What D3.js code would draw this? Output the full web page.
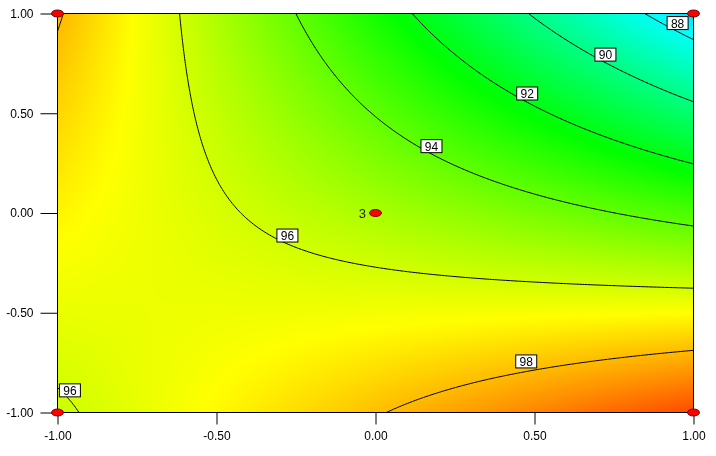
<!DOCTYPE html>
<html>
<head>
<meta charset="utf-8">
<script src="https://d3js.org/d3.v7.min.js"></script>
<style>
  body { margin: 0; background: #fff; }
  #wrap { position: relative; width: 716px; height: 456px; }
  #wrap canvas, #wrap svg { position: absolute; left: 0; top: 0; }
  svg text { font-family: Arial, "Liberation Sans", sans-serif; }
</style>
</head>
<body>
<div id="wrap">
  <canvas id="fill" width="716" height="456"></canvas>
  <svg id="chart" width="716" height="456"></svg>
</div>
<script>
  // response model in coded units: b0 + bA*A + bB*B + bAB*A*B
  const coefs = [95.28, -1.70, -2.65, -3.77]
  const levels = [88, 90, 92, 94, 96, 98]
  // where the contour labels sit (coded units)
  const labelSpots = [
    {level: 88, a: 0.950, b: 0.952},
    {level: 90, a: 0.723, b: 0.794},
    {level: 92, a: 0.477, b: 0.599},
    {level: 94, a: 0.176, b: 0.335},
    {level: 96, a: -0.277, b: -0.113},
    {level: 96, a: -0.961, b: -0.889},
    {level: 98, a: 0.474, b: -0.744}
  ]
  const designPoints = [
    {a: -1, b: 1, n: 1}, {a: 1, b: 1, n: 1},
    {a: -1, b: -1, n: 1}, {a: 1, b: -1, n: 1},
    {a: 0, b: 0, n: 3}
  ]
  const ticks = [-1, -0.5, 0, 0.5, 1]
  const colorStops = [83.3, 87.8, 92.3, 96.8, 101.3]
  const colorRange = ["#0000ff", "#00ffff", "#00ff00", "#ffff00", "#ff0000"]

  const model = (a, b) => coefs[0] + coefs[1]*a + coefs[2]*b + coefs[3]*a*b

  const svg = d3.select("#chart")
  const x = d3.scaleLinear().domain([-1, 1]).range([57.5, 693.5])
  const y = d3.scaleLinear().domain([-1, 1]).range([412.5, 13.5])
  const color = d3.scaleLinear().domain(colorStops).range(colorRange).clamp(true)

  // colour fill, pixel by pixel
  const ctx = document.getElementById("fill").getContext("2d")
  const px0 = 57, px1 = 694, py0 = 13, py1 = 413
  const img = ctx.createImageData(px1 - px0, py1 - py0)
  for (let py = py0; py < py1; py++) {
    const b = y.invert(py + 0.5)
    for (let px = px0; px < px1; px++) {
      const c = d3.rgb(color(model(x.invert(px + 0.5), b)))
      const k = ((py - py0) * (px1 - px0) + (px - px0)) * 4
      img.data[k] = c.r
      img.data[k+1] = c.g
      img.data[k+2] = c.b
      img.data[k+3] = 255
    }
  }
  ctx.putImageData(img, px0, py0)

  // contour lines
  const n = 241, m = 241
  const grid = new Float64Array(n * m)
  for (let j = 0; j < m; j++) {
    for (let i = 0; i < n; i++) {
      grid[j*n + i] = model(-1 + 2*i/(n-1), 1 - 2*j/(m-1))
    }
  }
  const contours = d3.contours().size([n, m]).thresholds(levels)(grid)
  const proj = d3.geoTransform({
    point: function(gx, gy) {
      this.stream.point(x(-1 + 2*(gx - 0.5)/(n-1)), y(1 - 2*(gy - 0.5)/(m-1)))
    }
  })
  const path = d3.geoPath(proj)

  svg.append("clipPath").attr("id", "plot-clip")
    .append("rect")
    .attr("x", x(-1)).attr("y", y(1))
    .attr("width", x(1) - x(-1)).attr("height", y(-1) - y(1))

  svg.append("g")
    .attr("clip-path", "url(#plot-clip)")
    .selectAll("path")
    .data(contours).enter()
    .append("path")
    .attr("d", path)
    .attr("fill", "none")
    .attr("stroke", "#000")
    .attr("stroke-width", 1)

  // frame
  svg.append("rect")
    .attr("x", x(-1)).attr("y", y(1))
    .attr("width", x(1) - x(-1)).attr("height", y(-1) - y(1))
    .attr("fill", "none")
    .attr("stroke", "#000")

  // axes
  const fmt = d => d.toFixed(2)
  const xAxis = svg.append("g")
    .attr("transform", "translate(0," + y(-1) + ")")
    .call(d3.axisBottom(x).tickValues(ticks).tickFormat(fmt).tickSize(12).tickPadding(7))
  const yAxis = svg.append("g")
    .attr("transform", "translate(" + x(-1) + ",0)")
    .call(d3.axisLeft(y).tickValues(ticks).tickFormat(fmt).tickSize(17).tickPadding(7))
  ;[xAxis, yAxis].forEach(g => {
    g.select(".domain").remove()
    g.attr("font-family", null).attr("font-size", 12)
    g.selectAll("text").attr("fill", "#000")
    g.selectAll("line").attr("stroke", "#000")
  })

  // contour labels
  const lab = svg.append("g").selectAll("g")
    .data(labelSpots).enter()
    .append("g")
    .attr("transform", d => "translate(" + x(d.a) + "," + y(d.b) + ")")
  lab.append("rect")
    .attr("x", -10.5).attr("y", -6.5)
    .attr("width", 21).attr("height", 13)
    .attr("fill", "#fff").attr("stroke", "#000")
  lab.append("text")
    .attr("text-anchor", "middle")
    .attr("y", 4.5)
    .attr("font-size", 12)
    .attr("fill", "#000")
    .text(d => d.level)

  // design points
  svg.append("g").selectAll("ellipse")
    .data(designPoints).enter()
    .append("ellipse")
    .attr("cx", d => x(d.a)).attr("cy", d => y(d.b))
    .attr("rx", 6).attr("ry", 3.5)
    .attr("fill", "#ff0000")
    .attr("stroke", "#700000")
    .attr("stroke-width", 1)
  svg.append("g").selectAll("text")
    .data(designPoints.filter(d => d.n > 1)).enter()
    .append("text")
    .attr("x", d => x(d.a) - 9.5).attr("y", d => y(d.b) + 4.5)
    .attr("text-anchor", "end")
    .attr("font-size", 13)
    .attr("fill", "#222")
    .text(d => d.n)
</script>
</body>
</html>
